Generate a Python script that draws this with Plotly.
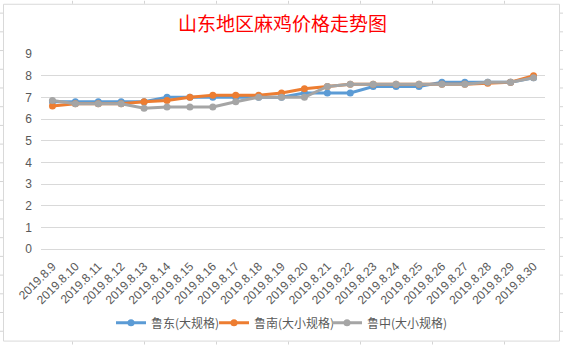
import plotly.graph_objects as go

dates = ["2019.8.9", "2019.8.10", "2019.8.11", "2019.8.12", "2019.8.13", "2019.8.14",
         "2019.8.15", "2019.8.16", "2019.8.17", "2019.8.18", "2019.8.19", "2019.8.20",
         "2019.8.21", "2019.8.22", "2019.8.23", "2019.8.24", "2019.8.25", "2019.8.26",
         "2019.8.27", "2019.8.28", "2019.8.29", "2019.8.30"]
ludong = [6.8, 6.8, 6.8, 6.8, 6.8, 7.0, 7.0, 7.0, 7.0, 7.0, 7.0, 7.2,
          7.2, 7.2, 7.5, 7.5, 7.5, 7.7, 7.7, 7.7, 7.7, 7.9]
lunan = [6.6, 6.7, 6.7, 6.7, 6.8, 6.85, 7.0, 7.1, 7.1, 7.1, 7.2, 7.4,
         7.5, 7.6, 7.6, 7.6, 7.6, 7.6, 7.6, 7.65, 7.7, 8.0]
luzhong = [6.85, 6.7, 6.7, 6.7, 6.5, 6.55, 6.55, 6.55, 6.8, 7.0, 7.0, 7.0,
           7.5, 7.6, 7.6, 7.6, 7.6, 7.6, 7.6, 7.7, 7.7, 7.9]
series_names = ["鲁东(大规格)", "鲁南(大小规格)", "鲁中(大小规格)"]
series_colors = ["#5B9BD5", "#ED7D31", "#A5A5A5"]
y_ticks = list(range(0, 10))

W, H = 563, 349
L, R, T, B = 41, 18, 54, 97
PW, PH = W - L - R, H - T - B


def px(x):
    return (x - L) / PW


def py(y):
    return (H - B - y) / PH


legend_ids = ["legend", "legend2", "legend3"]
legend_left = [111, 214, 327]

fig = go.Figure()
for name, vals, col, lid in zip(series_names, [ludong, lunan, luzhong], series_colors, legend_ids):
    fig.add_trace(go.Scatter(
        x=dates, y=vals, name=name, mode="lines+markers",
        line=dict(color=col, width=3),
        marker=dict(color=col, size=7, symbol="circle"),
        legend=lid,
    ))

shapes = []
grid = "#d4d4d4"
shapes.append(dict(type="rect", xref="paper", yref="paper",
                   x0=px(3.5), x1=px(559.5), y0=py(3.5), y1=py(345.5),
                   line=dict(color="#d9d9d9", width=1), layer="below"))
for cx in range(72, 560, 72):
    shapes.append(dict(type="line", xref="paper", yref="paper",
                       x0=px(cx + 0.5), x1=px(cx + 0.5), y0=py(0), y1=py(3),
                       line=dict(color=grid, width=1)))
    shapes.append(dict(type="line", xref="paper", yref="paper",
                       x0=px(cx + 0.5), x1=px(cx + 0.5), y0=py(346), y1=py(349),
                       line=dict(color=grid, width=1)))
for ry in range(12, 349, 19):
    shapes.append(dict(type="line", xref="paper", yref="paper",
                       x0=px(0), x1=px(3), y0=py(ry + 0.5), y1=py(ry + 0.5),
                       line=dict(color=grid, width=1)))
    shapes.append(dict(type="line", xref="paper", yref="paper",
                       x0=px(560), x1=px(563), y0=py(ry + 0.5), y1=py(ry + 0.5),
                       line=dict(color=grid, width=1)))

legend_font = dict(family="Noto Sans CJK SC", size=12, color="#595959")
layout_legends = {}
for lid, lx in zip(legend_ids, legend_left):
    layout_legends[lid] = dict(orientation="h", x=px(lx), xanchor="left",
                               y=py(327), yanchor="middle", font=legend_font,
                               itemwidth=30, bgcolor="rgba(0,0,0,0)")

fig.update_layout(
    width=W, height=H,
    margin=dict(l=L, r=R, t=T, b=B),
    paper_bgcolor="white", plot_bgcolor="white",
    title=dict(text="山东地区麻鸡价格走势图", x=px(282.5), xref="paper", xanchor="center",
               y=1 - 24 / H, yanchor="middle",
               font=dict(family="Noto Sans CJK SC", size=19, color="#FF0000")),
    showlegend=True,
    shapes=shapes,
    xaxis=dict(type="category", range=[-0.5, len(dates) - 0.5],
               tickangle=-45, showgrid=False, showline=False, zeroline=False,
               ticks="", ticklabelstandoff=7,
               tickfont=dict(family="Liberation Sans", size=12, color="#595959")),
    yaxis=dict(range=[0, 9], tickvals=y_ticks, showgrid=True, gridcolor="#d9d9d9",
               gridwidth=1, zeroline=True, zerolinecolor="#d9d9d9", zerolinewidth=1,
               showline=False, ticks="", ticklabelstandoff=8,
               tickfont=dict(family="Liberation Sans", size=12, color="#595959")),
    **layout_legends,
)

fig.write_html("out.html")
